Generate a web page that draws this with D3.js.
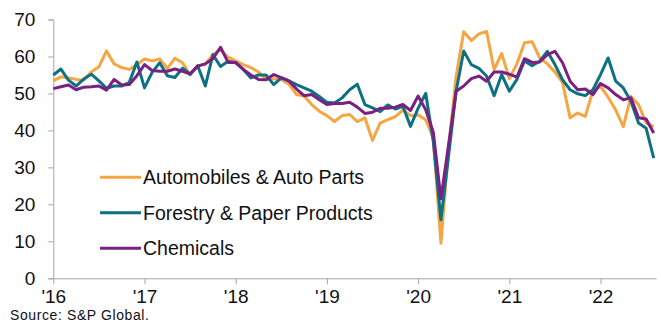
<!DOCTYPE html>
<html>
<head>
<meta charset="utf-8">
<script src="https://cdn.jsdelivr.net/npm/d3@7"></script>
<style>
  body { margin: 0; background: #fff; }
  svg { display: block; font-family: 'Liberation Sans', Arial, sans-serif; }
</style>
</head>
<body>
<script>
;(() => {
  // Monthly index values, Jan 2016 .. Aug 2022
  const auto = [
    53.4, 54.5, 54.2, 53.8, 53.6, 55.8, 57.2, 61.5, 58.0, 57.0, 56.5, 57.8,
    59.3, 58.8, 59.3, 56.8, 59.5, 58.3, 55.0, 57.5, 58.0, 60.5, 61.8, 59.8,
    58.8, 57.8, 57.0, 55.8, 53.8, 54.0, 53.8, 52.5, 49.7, 49.3, 47.0, 45.2,
    44.0, 42.4, 44.0, 44.3, 42.4, 43.4, 37.3, 42.0, 42.9, 43.7, 45.5, 44.0,
    44.2, 42.9, 38.0, 9.5, 35.0, 54.6, 66.7, 64.3, 66.1, 66.8, 56.5, 60.8,
    54.0, 58.0, 63.7, 64.0, 59.6, 58.0, 55.8, 53.0, 43.4, 44.7, 43.8, 50.8,
    51.9, 49.0, 45.5, 41.0, 49.2, 47.0, 42.0, 41.0,
  ]
  const forestry = [
    55.0, 56.6, 53.6, 52.0, 53.9, 55.2, 53.4, 51.4, 52.0, 52.0, 53.0, 58.5,
    51.5, 55.7, 58.3, 54.8, 54.3, 56.8, 55.2, 57.5, 52.0, 60.5, 57.3, 58.7,
    58.3, 56.5, 54.2, 55.0, 55.0, 52.4, 54.2, 53.4, 52.4, 51.5, 50.6, 49.2,
    47.6, 47.4, 48.8, 51.0, 52.5, 47.0, 46.1, 45.1, 46.9, 45.8, 46.5, 41.1,
    46.0, 50.0, 37.0, 15.8, 33.0, 50.6, 61.5, 57.8, 56.8, 54.7, 49.4, 55.1,
    50.6, 53.8, 58.8, 57.5, 58.7, 61.4, 57.8, 53.7, 51.0, 49.9, 49.4, 51.0,
    55.1, 59.6, 53.3, 51.5, 47.9, 42.0, 40.6, 32.5,
  ]
  const chemicals = [
    51.3, 51.8, 52.3, 51.0, 51.7, 51.8, 52.0, 50.9, 53.8, 52.3, 52.4, 54.8,
    57.8, 56.2, 56.0, 56.0, 56.6, 56.0, 55.3, 57.4, 58.0, 59.4, 62.5, 58.4,
    58.4, 56.5, 55.0, 53.8, 53.7, 55.1, 54.3, 53.4, 51.2, 49.4, 49.7, 48.3,
    47.0, 47.3, 47.3, 47.6, 46.3, 44.6, 44.9, 46.0, 46.0, 46.3, 47.0, 45.4,
    49.3, 45.6, 39.5, 21.5, 36.0, 50.6, 52.0, 54.0, 54.7, 53.3, 55.8, 55.8,
    55.2, 54.4, 59.4, 58.4, 58.5, 60.5, 61.4, 58.3, 53.3, 51.0, 51.2, 49.7,
    52.7, 51.5, 49.7, 48.3, 48.8, 43.4, 43.1, 39.3,
  ]

  const seriesNames = ['Automobiles & Auto Parts', 'Forestry & Paper Products', 'Chemicals']
  const yearLabels = ["'16", "'17", "'18", "'19", "'20", "'21", "'22"]
  const yTicks = [0, 10, 20, 30, 40, 50, 60, 70]

  const width = 661
  const height = 322
  const colors = ['#F5A542', '#0E7183', '#7B2083']
  const axisColor = '#a6a6a6'

  const series = [auto, forestry, chemicals].map((values, k) => ({
    name: seriesNames[k],
    color: colors[k],
    values,
  }))

  const svg = d3
    .select(document.body)
    .append('svg')
    .attr('width', width)
    .attr('height', height)

  // x is month index from Jan 2016, y is index value
  const x = d3.scaleLinear().domain([0, 79.3]).range([53.3, 656])
  const y = d3.scaleLinear().domain([0, 70]).range([278.3, 19.5])

  // Y axis
  const yAxis = svg
    .append('g')
    .attr('transform', `translate(${x(0)},0)`)
    .call(d3.axisLeft(y).tickValues(yTicks).tickSize(5).tickPadding(13))
  yAxis.selectAll('path, line').attr('stroke', axisColor)
  yAxis
    .selectAll('text')
    .attr('fill', '#111')
    .style('font-size', '19px')
    .style('font-family', "'Liberation Sans', Arial, sans-serif")

  // X axis, one tick per January
  const xAxis = svg
    .append('g')
    .attr('transform', `translate(0,${y(0)})`)
    .call(
      d3
        .axisBottom(x)
        .tickValues(yearLabels.map((d, i) => i * 12))
        .tickFormat((d, i) => yearLabels[i])
        .tickSize(6)
        .tickSizeOuter(0)
        .tickPadding(5)
    )
  xAxis.selectAll('path, line').attr('stroke', axisColor)
  xAxis
    .selectAll('text')
    .attr('fill', '#111')
    .style('font-size', '19px')
    .style('font-family', "'Liberation Sans', Arial, sans-serif")

  // Lines
  const line = d3
    .line()
    .x((d, i) => x(i))
    .y((d) => y(d))

  svg
    .selectAll('.series')
    .data(series)
    .enter()
    .append('path')
    .attr('class', 'series')
    .attr('fill', 'none')
    .attr('stroke', (d) => d.color)
    .attr('stroke-width', 3)
    .attr('stroke-linejoin', 'round')
    .attr('d', (d) => line(d.values))

  // Legend
  const legend = svg
    .selectAll('.legend')
    .data(series)
    .enter()
    .append('g')
    .attr('class', 'legend')
    .attr('transform', (d, i) => `translate(100,${177.3 + i * 35.5})`)

  legend
    .append('line')
    .attr('x1', 0)
    .attr('x2', 41)
    .attr('stroke', (d) => d.color)
    .attr('stroke-width', 3)

  legend
    .append('text')
    .attr('x', 43)
    .attr('dy', '0.35em')
    .attr('fill', '#111')
    .style('font-size', '19.5px')
    .text((d) => d.name)

  // Source note
  svg
    .append('text')
    .attr('x', 10)
    .attr('y', 320)
    .attr('fill', '#111')
    .style('font-size', '14px')
    .style('letter-spacing', '0.6px')
    .text('Source: S&P Global.')
})()
</script>
</body>
</html>
